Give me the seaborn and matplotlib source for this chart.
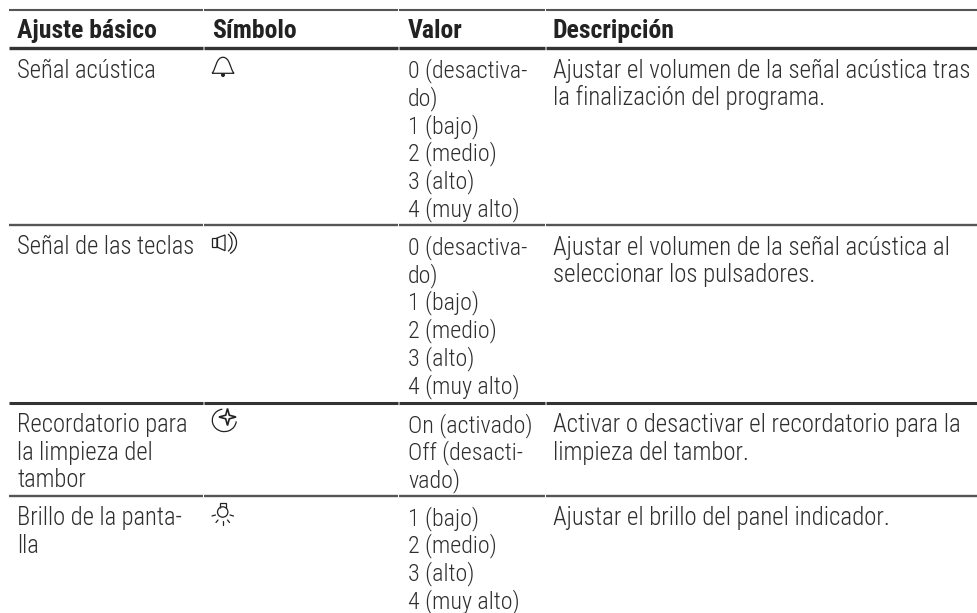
import matplotlib
matplotlib.use("Agg")
import matplotlib.pyplot as plt
from matplotlib.patches import Arc, Circle, PathPatch, Polygon
from matplotlib.path import Path
import seaborn as sns

sns.set_theme(style="white")
plt.rcParams["font.family"] = ["Roboto Condensed", "Roboto", "DejaVu Sans"]

headers = ["Ajuste básico", "Símbolo", "Valor", "Descripción"]
ajustes = [
    ["Señal acústica"],
    ["Señal de las teclas"],
    ["Recordatorio para", "la limpieza del", "tambor"],
    ["Brillo de la panta-", "lla"],
]
valores = [
    ["0 (desactiva-", "do)", "1 (bajo)", "2 (medio)", "3 (alto)", "4 (muy alto)"],
    ["0 (desactiva-", "do)", "1 (bajo)", "2 (medio)", "3 (alto)", "4 (muy alto)"],
    ["On (activado)", "Off (desacti-", "vado)"],
    ["1 (bajo)", "2 (medio)", "3 (alto)", "4 (muy alto)"],
]
descripciones = [
    ["Ajustar el volumen de la señal acústica tras", "la finalización del programa."],
    ["Ajustar el volumen de la señal acústica al", "seleccionar los pulsadores."],
    ["Activar o desactivar el recordatorio para la", "limpieza del tambor."],
    ["Ajustar el brillo del panel indicador."],
]

col_x = [17, 212, 408, 553]
rule_y = [10, 47.5, 225, 403, 496]
rule_w = [1.5, 2.4, 1.7, 2.2, 1.7]
rule_c = ["#555555", "#333333", "#555555", "#333333", "#555555"]
first_line = [77.7, 254.5, 432, 525]
line_h = 27.7
ink = "#2e2e2e"

fig, ax = plt.subplots(figsize=(9.77, 6.13), dpi=100)
ax.set_position([0, 0, 1, 1])
ax.set_xlim(0, 977)
ax.set_ylim(613, 0)
ax.set_xticks([])
ax.set_yticks([])
sns.despine(ax=ax, left=True, bottom=True)

# rules with the small breaks above each column
for y, w, c in zip(rule_y, rule_w, rule_c):
    ax.hlines([y] * 4, [9, 204, 399, 546], [203, 398, 545, 977], color=c, lw=w)

for x, h in zip(col_x, headers):
    ax.text(x, 38, h, fontsize=18.5, fontweight=700, color="#222222", va="baseline")

# the original type runs a bit wider in the first and last column
for col, x, fs in [(ajustes, col_x[0], 17.7), (valores, col_x[2], 17.3), (descripciones, col_x[3], 17.9)]:
    for row, y0 in zip(col, first_line):
        for i, line in enumerate(row):
            ax.text(x, y0 + i * line_h, line, fontsize=fs, fontweight=300, color=ink, va="baseline")

# symbols
lw = 0.9
bell = Path(
    [(212, 73.3), (216, 69), (216, 57.3), (223, 57.3), (230, 57.3), (230, 69), (234, 73.3), (212, 73.3)],
    [Path.MOVETO, Path.CURVE4, Path.CURVE4, Path.CURVE4, Path.CURVE4, Path.CURVE4, Path.CURVE4, Path.LINETO],
)
ax.add_patch(PathPatch(bell, fill=False, ec="#222222", lw=lw))
ax.add_patch(Circle((223, 75), 1.3, color="#222222"))

ax.add_patch(Polygon([(212, 238), (217, 238), (217, 247), (212, 247)], fill=False, ec="#222222", lw=lw))
ax.add_patch(Polygon([(217, 238), (225, 235), (225, 250.7), (217, 247)], fill=False, ec="#222222", lw=lw))
ax.add_patch(Arc((224, 242.7), 16, 20, theta1=-65, theta2=65, ec="#222222", lw=lw))
ax.add_patch(Arc((225, 242.7), 23, 24, theta1=-65, theta2=65, ec="#222222", lw=lw))

ax.add_patch(Arc((224.3, 420.3), 24, 22.6, theta1=5, theta2=260, ec="#222222", lw=lw))
star = Path(
    [(227.5, 408.5), (229.3, 415.2), (236, 417), (229.3, 418.8), (227.5, 425.5),
     (225.7, 418.8), (219, 417), (225.7, 415.2), (227.5, 408.5)],
    [Path.MOVETO] + [Path.LINETO] * 7 + [Path.CLOSEPOLY],
)
ax.add_patch(PathPatch(star, fill=False, ec="#222222", lw=1.2))

ax.add_patch(Circle((222.7, 512), 5.2, fill=False, ec="#222222", lw=lw))
ax.add_patch(Polygon([(219.7, 508), (219.7, 503), (225.7, 503), (225.7, 508)], closed=False, fill=False, ec="#222222", lw=lw))
for x1, y1, x2, y2 in [(212, 516, 215.5, 515), (230, 515, 233.5, 516), (216, 522.5, 218, 520),
                       (227.5, 520, 229.5, 522.5), (222.7, 521, 222.7, 525)]:
    ax.plot([x1, x2], [y1, y2], color="#222222", lw=lw)

fig.savefig("out.png", dpi=100)
